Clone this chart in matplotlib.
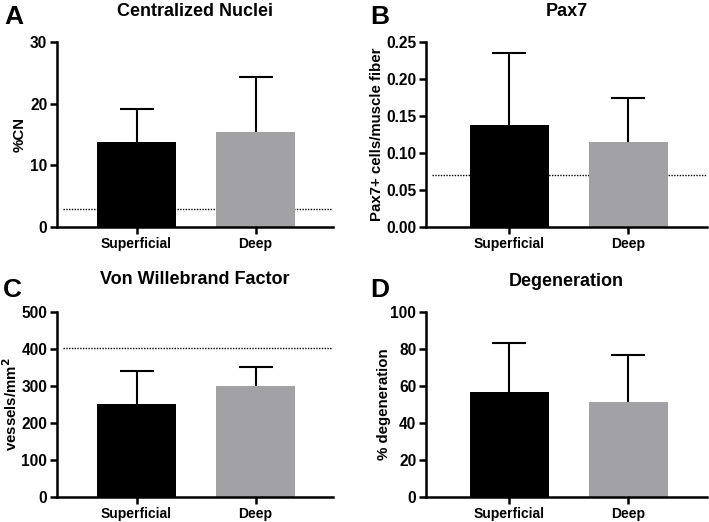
import matplotlib
matplotlib.use("Agg")
import matplotlib.pyplot as plt

plt.rcParams['font.family'] = ['Liberation Sans', 'DejaVu Sans']
plt.rcParams['font.weight'] = 'bold'

groups = ["Superficial", "Deep"]
colors = ["#000000", "#A2A2A6"]

cn_mean = [13.8, 15.4]
cn_err = [5.3, 8.9]
cn_ref = 3.0

pax_mean = [0.138, 0.115]
pax_err = [0.097, 0.059]
pax_ref = 0.07

vwf_mean = [251, 300]
vwf_err = [89, 52]
vwf_ref = 403

deg_mean = [56.5, 51.5]
deg_err = [26.5, 25.0]

panels = [
    dict(letter="A", title="Centralized Nuclei", ylabel="%CN", mean=cn_mean, err=cn_err,
         ref=cn_ref, ylim=(0, 30), yticks=[0, 10, 20, 30], fmt="{:.0f}",
         rect=(57, 42, 333, 227), xlim=(-0.668, 1.65), ylx=20, letx=4, lety=17, titley=11),
    dict(letter="B", title="Pax7", ylabel="Pax7+ cells/muscle fiber", mean=pax_mean, err=pax_err,
         ref=pax_ref, ylim=(0, 0.25), yticks=[0, 0.05, 0.10, 0.15, 0.20, 0.25], fmt="{:.2f}",
         rect=(426, 42, 707, 227), xlim=(-0.70, 1.66), ylx=377, letx=370, lety=17, titley=11),
    dict(letter="C", title="Von Willebrand Factor", ylabel="vessels/mm$^{\\mathbf{2}}$", mean=vwf_mean, err=vwf_err,
         ref=vwf_ref, ylim=(0, 500), yticks=[0, 100, 200, 300, 400, 500], fmt="{:.0f}",
         rect=(57, 312, 333, 497), xlim=(-0.668, 1.65), ylx=11, letx=3, lety=290, titley=279),
    dict(letter="D", title="Degeneration", ylabel="% degeneration", mean=deg_mean, err=deg_err,
         ref=None, ylim=(0, 100), yticks=[0, 20, 40, 60, 80, 100], fmt="{:.0f}",
         rect=(426, 312, 707, 497), xlim=(-0.70, 1.66), ylx=384, letx=370, lety=290, titley=281),
]

W, H = 709, 522
fig = plt.figure(figsize=(W / 100, H / 100), dpi=100)

for p in panels:
    x0, y0, x1, y1 = p["rect"]
    ax = fig.add_axes([x0 / W, 1 - y1 / H, (x1 - x0) / W, (y1 - y0) / H])
    xs = list(range(len(groups)))
    ax.bar(xs, p["mean"], width=0.664, color=colors, zorder=2)
    _, caps, _ = ax.errorbar(xs, p["mean"], yerr=[[0] * len(xs), p["err"]], fmt="none",
                             ecolor="black", elinewidth=1.5, capsize=12, capthick=1.5, zorder=3)
    if len(caps) == 2:
        caps[0].set_visible(False)
    if p["ref"] is not None:
        ax.axhline(p["ref"], color="black", linestyle=(0, (1, 1.0)), linewidth=1.0, zorder=1,
                   xmin=0.02)
    ax.set_xlim(*p["xlim"])
    ax.set_ylim(*p["ylim"])
    ax.set_yticks(p["yticks"])
    ax.set_yticklabels([p["fmt"].format(v) for v in p["yticks"]], fontsize=11.2, fontweight="bold")
    ax.set_xticks(xs)
    ax.set_xticklabels(groups, fontsize=10, fontweight="bold")
    for s in ["top", "right"]:
        ax.spines[s].set_visible(False)
    for s in ["left", "bottom"]:
        ax.spines[s].set_linewidth(1.8)
    ax.tick_params(axis="both", width=1.8, length=5, direction="out", pad=2)
    fig.text((x0 + x1) / 2 / W, 1 - p["titley"] / H, p["title"], ha="center", va="center",
             fontsize=13, fontweight="bold")
    fig.text(p["ylx"] / W, 1 - ((y0 + y1) / 2) / H, p["ylabel"], rotation=90,
             ha="center", va="center", fontsize=10.8, fontweight="bold")
    fig.text(p["letx"] / W, 1 - p["lety"] / H, p["letter"], ha="left", va="center",
             fontsize=19, fontweight="bold")

fig.savefig("out.png", dpi=100)
